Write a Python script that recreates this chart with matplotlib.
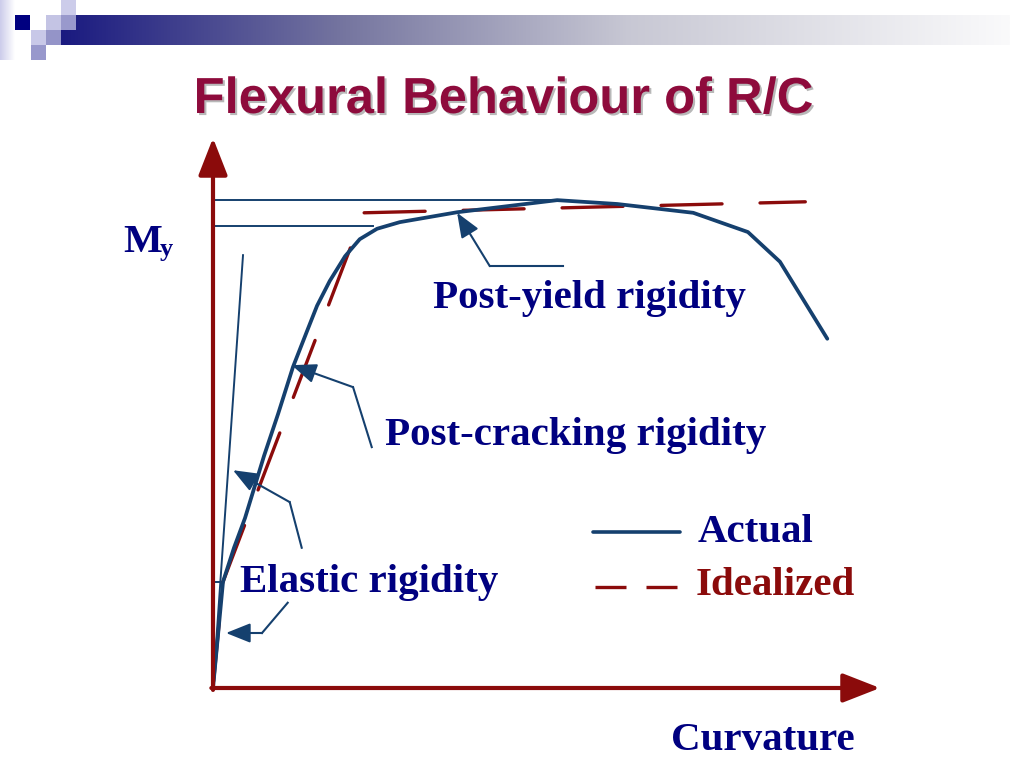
import numpy as np
import matplotlib
matplotlib.use("Agg")
import matplotlib.pyplot as plt
import matplotlib.patheffects as pe
from matplotlib.patches import Rectangle, FancyArrowPatch, ArrowStyle

# moment-curvature sketch, values (arbitrary units 0-100)
actual_phi = [0.0, 0.75, 1.5, 3.15, 4.8, 7.65, 9.75, 12.0, 14.1, 15.6, 17.5,
              19.8, 22.0, 24.6, 28.0, 36.6, 51.6, 60.6, 72.0, 80.2, 85.0, 92.1]
actual_m = [0.0, 9.6, 19.3, 25.5, 30.9, 42.2, 49.8, 58.4, 64.9, 69.5, 74.0,
            78.5, 81.6, 83.5, 84.7, 86.5, 88.7, 88.0, 86.4, 82.9, 77.5, 63.5]

ideal_phi = [0.0, 1.5, 22.6, 88.8]
ideal_m = [0.0, 19.3, 86.4, 88.4]

m_crack, phi_crack = 19.3, 1.35
m_yield, phi_yield = 84.0, 24.0
m_ult, phi_ult = 88.7, 51.6
tangent_phi = [0.0, 4.5]
tangent_m = [0.0, 78.7]

# labels and their leader lines (last point = arrow tip)
labels = ["Post-yield rigidity", "Post-cracking rigidity", "Elastic rigidity"]
label_pos = [(33.0, 69.1), (25.8, 44.2), (4.05, 17.5)]
leaders = [
    [(52.5, 76.7), (41.5, 76.7), (36.6, 86.4)],
    [(23.8, 43.8), (21.0, 54.7), (11.8, 58.7)],
    [(13.3, 25.5), (11.5, 33.8), (3.0, 39.6)],
    [(11.2, 15.5), (7.35, 10.0), (1.95, 10.0)],
]

BLUE = "#15406e"
RED = "#8b0b0b"
NAVY = "#000080"
TITLE = "#8e0b3c"
SERIF = "Liberation Serif"

fig = plt.figure(figsize=(10.24, 7.68), dpi=100)

# --- slide decoration (pixel coords) ---
deco = fig.add_axes([0, 0, 1, 1], zorder=0)
deco.axis("off")
t = np.linspace(0, 1, 400)
stops = [0.0, 0.3, 0.6, 1.0]
stop_cols = np.array([[26, 26, 128], [118, 118, 160], [200, 200, 212], [250, 250, 251]]) / 255
grad = np.stack([np.interp(t, stops, stop_cols[:, k]) for k in range(3)], axis=1)[None, :, :]
deco.imshow(grad, extent=(61, 1010, 45, 15), aspect="auto")
side = np.linspace(0, 1, 50)
sgrad = (np.array([0.80, 0.80, 0.92])[None, :] * (1 - side[:, None]) + side[:, None])[None, :, :]
deco.imshow(sgrad, extent=(0, 15, 60, 0), aspect="auto")
squares = [(15, 15, "#000080"), (46, 15, "#c4c4e4"), (61, 15, "#9999cc"),
           (61, 0, "#ccccea"), (31, 30, "#c8c8e8"), (46, 30, "#9494c8"),
           (31, 45, "#9898cc")]
for sx, sy, col in squares:
    deco.add_patch(Rectangle((sx, sy), 15, 15, color=col, lw=0))
deco.set_xlim(0, 1024)
deco.set_ylim(768, 0)

# --- chart ---
ax = fig.add_axes([213 / 1024, 80 / 768, 667 / 1024, 550 / 768], zorder=1)
ax.set_xlim(0, 100)
ax.set_ylim(0, 100)
ax.axis("off")

# axes arrows
for a, b in [((0, -0.35), (0, 100)), ((-0.25, 0), (100, 0))]:
    ax.add_patch(FancyArrowPatch(a, b, arrowstyle=ArrowStyle("-|>", head_length=23, head_width=9),
                                 mutation_scale=1, lw=3, color=RED, shrinkA=0, shrinkB=0,
                                 joinstyle="round", clip_on=False, zorder=5))

# reference lines
ax.plot([0, phi_ult], [m_ult, m_ult], color=BLUE, lw=1.4, zorder=2)
ax.plot([0, phi_yield], [m_yield, m_yield], color=BLUE, lw=1.4, zorder=2)
ax.plot([0, phi_crack], [m_crack, m_crack], color=BLUE, lw=1.4, zorder=2)
ax.plot(tangent_phi, tangent_m, color=BLUE, lw=1.4, zorder=2)

# curves
lw_i = 2.4
ax.plot(ideal_phi, ideal_m, color=RED, lw=lw_i, dash_capstyle="round",
        linestyle=(27.6, (18.3, 11.4)), zorder=3, clip_on=False)
ax.plot(actual_phi, actual_m, color=BLUE, lw=2.7, solid_joinstyle="round",
        solid_capstyle="round", zorder=4, clip_on=False)

# leaders
for pts in leaders:
    xs, ys = zip(*pts)
    ax.plot(xs[:-1], ys[:-1], color=BLUE, lw=1.5, zorder=4, clip_on=False)
    ax.add_patch(FancyArrowPatch(pts[-2], pts[-1],
                                 arrowstyle=ArrowStyle("-|>", head_length=15, head_width=6),
                                 mutation_scale=1, lw=1.5, color=BLUE, shrinkA=0, shrinkB=0,
                                 clip_on=False, zorder=6))

fs = 29.5
for txt, (x, y) in zip(labels, label_pos):
    ax.text(x, y, txt, fontsize=fs, fontfamily=SERIF, fontweight="bold", color=NAVY,
            ha="left", va="baseline", clip_on=False, zorder=7)

# legend drawn by hand like the slide
ax.plot([57.0, 70.0], [28.4, 28.4], color=BLUE, lw=2.6, solid_capstyle="round", clip_on=False)
ax.plot([57.3, 69.6], [18.4, 18.4], color=RED, lw=lw_i, linestyle=(0, (9.3, 6.0)), clip_on=False)
ax.text(72.6, 26.6, "Actual", fontsize=fs, fontfamily=SERIF, fontweight="bold",
        color=NAVY, ha="left", va="baseline")
ax.text(72.3, 16.9, "Idealized", fontsize=fs, fontfamily=SERIF, fontweight="bold",
        color=RED, ha="left", va="baseline")

ax.text(68.7, -11.3, "Curvature", fontsize=fs, fontfamily=SERIF, fontweight="bold",
        color=NAVY, ha="left", va="baseline", clip_on=False)
ax.text(-13.5, 79.3, "M", fontsize=fs, fontfamily=SERIF, fontweight="bold",
        color=NAVY, ha="left", va="baseline", clip_on=False)
ax.text(-7.95, 78.5, "y", fontsize=19, fontfamily=SERIF, fontweight="bold",
        color=NAVY, ha="left", va="baseline", clip_on=False)

fig.text(504 / 1024, 1 - 113 / 768, "Flexural Behaviour of R/C", fontsize=36.5,
         fontfamily="Liberation Sans", fontweight="bold", color=TITLE,
         ha="center", va="baseline",
         path_effects=[pe.withSimplePatchShadow(offset=(1.5, -1.5), shadow_rgbFace="#9a9a9a", alpha=0.7)])

fig.savefig("out.png", dpi=100, facecolor="white")
